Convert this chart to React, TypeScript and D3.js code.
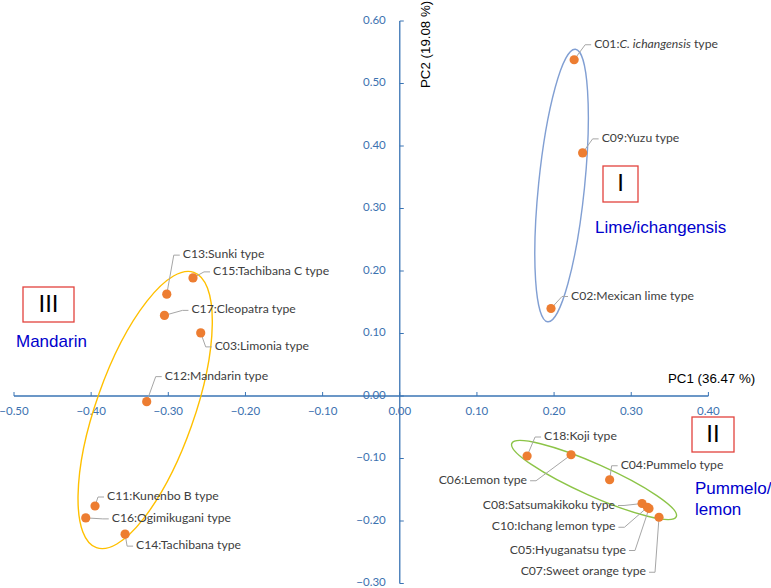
import React from "react";
import * as d3 from "d3";

// ---- data ----
const ids = ["C01","C02","C03","C04","C05","C06","C07","C08","C09","C10","C11","C12","C13","C14","C15","C16","C17","C18"];
const names = [
  "*C. ichangensis* type","Mexican lime type","Limonia type","Pummelo type","Hyuganatsu type","Lemon type",
  "Sweet orange type","Satsumakikoku type","Yuzu type","Ichang lemon type","Kunenbo B type","Mandarin type",
  "Sunki type","Tachibana type","Tachibana C type","Ogimikugani type","Cleopatra type","Koji type"];
const pc1 = [0.226,0.196,-0.258,0.272,0.323,0.222,0.336,0.314,0.237,0.321,-0.395,-0.328,-0.302,-0.356,-0.268,-0.407,-0.305,0.165];
const pc2 = [0.538,0.140,0.101,-0.134,-0.180,-0.094,-0.194,-0.172,0.389,-0.178,-0.176,-0.009,0.163,-0.221,0.189,-0.195,0.129,-0.096];

const xTicks = [-0.5,-0.4,-0.3,-0.2,-0.1,0,0.1,0.2,0.3,0.4];
const yTicks = [-0.3,-0.2,-0.1,0,0.1,0.2,0.3,0.4,0.5,0.6];
const xTitle = "PC1 (36.47 %)";
const yTitle = "PC2 (19.08 %)";

const groupNumerals = ["I","II","III"];
const groupNames = [["Lime/ichangensis"],["Pummelo/","lemon"],["Mandarin"]];
const groupCenterPc1 = [0.2097,0.2518,-0.330];
const groupCenterPc2 = [0.3368,-0.1344,-0.0224];

// ---- layout (pixels) ----
const W = 771, H = 588;
const labelLayout: Record<string,[number,number,string]> = {
  C01:[20,-15,"start"], C02:[20,-12,"start"], C03:[14,14,"start"], C04:[11,-14,"start"],
  C05:[-23,42,"end"], C06:[-44,26,"end"], C07:[-13,55,"end"], C08:[-27,2,"end"],
  C09:[19,-14,"start"], C10:[-32,20,"end"], C11:[12,-9,"start"], C12:[18,-25,"start"],
  C13:[16,-39,"start"], C14:[11,12,"start"], C15:[20,-6,"start"], C16:[26,1,"start"],
  C17:[27,-5,"start"], C18:[17,-19,"start"],
};
// ellipse: [rx, ry, rotation deg, color]
const ellipseLayout: [number,number,number,string][] = [
  [23,137,5.8,"#819FD3"],
  [90,16,24,"#8CC447"],
  [49,146,19.5,"#FFC000"],
];
// box [x0,y0,w,h], name label [x, y]
const boxLayout = [[603,166,35,36],[692,417,42,35],[23,287,51,35]];
const nameLayout = [[595,229],[695,490],[16,343]];

const axisColor = "#3A74B4";
const tickColor = "#3C72B0";
const labelFont = "Lato, 'Open Sans', sans-serif";
const arialFont = "'Liberation Sans', Arial, sans-serif";

function renderName(s: string) {
  const parts = s.split("*");
  return parts.map((p, i) => (
    <tspan key={i} fontStyle={i % 2 === 1 ? "italic" : "normal"}>{p}</tspan>
  ));
}

export default function App() {
  const x = d3.scaleLinear().domain([-0.5, 0.4]).range([14, 708.4]);
  const y = d3.scaleLinear().domain([-0.3, 0.6]).range([583.5, 21]);
  const fmt = d3.format(".2f");
  const x0 = x(0), y0 = y(0);

  return (
    <svg width={W} height={H} style={{ position: "absolute", left: 0, top: 0, background: "#fff" }}
      xmlns="http://www.w3.org/2000/svg">
      <rect x={0} y={0} width={W} height={H} fill="#fff" />
      {/* x axis */}
      <line x1={x(-0.5)} x2={x(0.4)} y1={y0} y2={y0} stroke={axisColor} strokeWidth={1.3} />
      {xTicks.map((t) => (
        <g key={"xt" + t}>
          <line x1={x(t)} x2={x(t)} y1={y0} y2={y0 - 4} stroke={axisColor} strokeWidth={1} />
          <text x={x(t)} y={y0 + 16} textAnchor="middle" dominantBaseline="middle"
            fontFamily={labelFont} fontSize={11.5} fill={tickColor}>{fmt(t)}</text>
        </g>
      ))}
      {/* y axis */}
      <line x1={x0} x2={x0} y1={y(0.6)} y2={y(-0.3)} stroke={axisColor} strokeWidth={1.3} />
      {yTicks.map((t) => (
        <g key={"yt" + t}>
          <line x1={x0} x2={x0 + 4} y1={y(t)} y2={y(t)} stroke={axisColor} strokeWidth={1} />
          <text x={x0 - 14} y={y(t)} textAnchor="end" dominantBaseline="middle"
            fontFamily={labelFont} fontSize={11.5} fill={tickColor}>{fmt(t)}</text>
        </g>
      ))}
      <text x={668} y={379} dominantBaseline="middle" fontFamily={arialFont} fontSize={13.3} fill="#000">{xTitle}</text>
      <text transform={`translate(430,88) rotate(-90)`} fontFamily={arialFont} fontSize={13.3} fill="#000">{yTitle}</text>

      {/* ellipses */}
      {ellipseLayout.map(([rx, ry, rot, col], i) => (
        <ellipse key={"el" + i} cx={0} cy={0} rx={rx} ry={ry}
          transform={`translate(${x(groupCenterPc1[i])},${y(groupCenterPc2[i])}) rotate(${rot})`}
          fill="none" stroke={col} strokeWidth={1.4} />
      ))}

      {/* group boxes & names */}
      {groupNumerals.map((n, i) => {
        const [bx, by, bw, bh] = boxLayout[i];
        const [nx, ny] = nameLayout[i];
        return (
          <g key={"g" + i}>
            <rect x={bx} y={by} width={bw} height={bh} fill="#fff" stroke="#E2433D" strokeWidth={1.3} />
            <text x={bx + bw / 2} y={by + bh / 2 + 1} textAnchor="middle" dominantBaseline="middle"
              fontFamily={arialFont} fontSize={24} fill="#000">{n}</text>
            {groupNames[i].map((line, j) => (
              <text key={j} x={nx} y={ny + j * 21} dominantBaseline="middle"
                fontFamily={arialFont} fontSize={17} fill="#0000CC">{line}</text>
            ))}
          </g>
        );
      })}

      {/* leader lines */}
      {ids.map((id, i) => {
        const [dx, dy, anchor] = labelLayout[id];
        const cx = x(pc1[i]), cy = y(pc2[i]);
        const tx = cx + dx, ty = cy + dy;
        const s = anchor === "start" ? 1 : -1;
        const pts = [[cx, cy], [tx - s * 9, ty], [tx - s * 3, ty]];
        return (
          <polyline key={"ll" + id} points={pts.map((p) => p.join(",")).join(" ")}
            fill="none" stroke="#A6A6A6" strokeWidth={1} />
        );
      })}
      {/* points */}
      {ids.map((id, i) => (
        <circle key={"pt" + id} cx={x(pc1[i])} cy={y(pc2[i])} r={4.6} fill="#ED7D31" />
      ))}
      {/* labels */}
      {ids.map((id, i) => {
        const [dx, dy, anchor] = labelLayout[id];
        const cx = x(pc1[i]), cy = y(pc2[i]);
        return (
          <text key={"lb" + id} x={cx + dx} y={cy + dy} textAnchor={anchor} dominantBaseline="middle"
            fontFamily={labelFont} fontSize={12.2} fill="#404040">
            <tspan>{id + ":"}</tspan>{renderName(names[i])}
          </text>
        );
      })}
    </svg>
  );
}
